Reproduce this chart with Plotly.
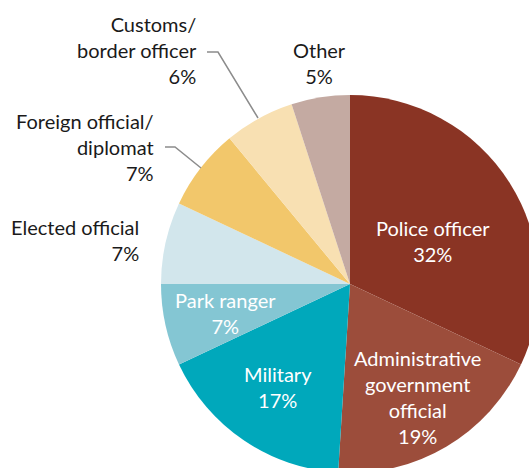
import plotly.graph_objects as go

labels = ["Police officer", "Administrative government official", "Military", "Park ranger",
          "Elected official", "Foreign official/diplomat", "Customs/border officer", "Other"]
values = [32, 19, 17, 7, 7, 7, 6, 5]
colors = ["#8A3424", "#9C4D3B", "#00A8BB", "#84C6D3", "#D2E6EC", "#F2C76B", "#F8E0B2", "#C4AAA2"]
label_texts = ["Police officer<br>32%", "Administrative<br>government<br>official<br>19%",
               "Military<br>17%", "Park ranger<br>7%", "Elected official<br>7%",
               "Foreign official/<br>diplomat<br>7%", "Customs/<br>border officer<br>6%", "Other<br>5%"]

# figure is slightly larger than the 529x468 window so the pie is cropped like the reference
W, H = 540, 476
cx, cy, R = 350, 284, 189

fig = go.Figure(go.Pie(
    labels=labels, values=values, sort=False, direction="clockwise", rotation=0,
    marker=dict(colors=colors, line=dict(width=0)),
    textinfo="none", hoverinfo="label+percent", showlegend=False,
    domain=dict(x=[(cx - R) / W, (cx + R) / W], y=[1 - (cy + R) / H, 1 - (cy - R) / H]),
))

# label placement (pixels): x, y-center, anchor, colour
pos = [
    (433, 241, "center", "white"),
    (417, 397, "center", "white"),
    (278, 387, "center", "white"),
    (225, 313, "center", "white"),
    (141, 240, "right", "#1a1a1a"),
    (156, 147, "right", "#1a1a1a"),
    (199, 50, "right", "#1a1a1a"),
    (319, 63, "center", "#1a1a1a"),
]
font_family = "Lato, 'Open Sans', sans-serif"
for txt, (x, y, anc, col) in zip(label_texts, pos):
    fig.add_annotation(x=x / W, y=1 - y / H, xref="paper", yref="paper", text=txt,
                       showarrow=False, xanchor=anc, yanchor="middle", align=anc,
                       font=dict(family=font_family, size=20, color=col))

# leader lines
leaders = [
    [(207, 52), (218, 52), (258, 118)],
    [(165, 147), (175, 147), (201, 168)],
]
for pts in leaders:
    path = "M " + " L ".join(f"{x / W},{1 - y / H}" for x, y in pts)
    fig.add_shape(type="path", path=path, xref="paper", yref="paper",
                  line=dict(color="#8c8c8c", width=1.5))

fig.update_layout(width=W, height=H, margin=dict(l=0, r=0, t=0, b=0),
                  paper_bgcolor="white", plot_bgcolor="white")
fig.write_html("out.html", config={"displayModeBar": False}, post_script=(
    "document.body.style.margin='0';"
    "document.body.style.overflow='hidden';"
    "document.documentElement.style.overflow='hidden';"))
